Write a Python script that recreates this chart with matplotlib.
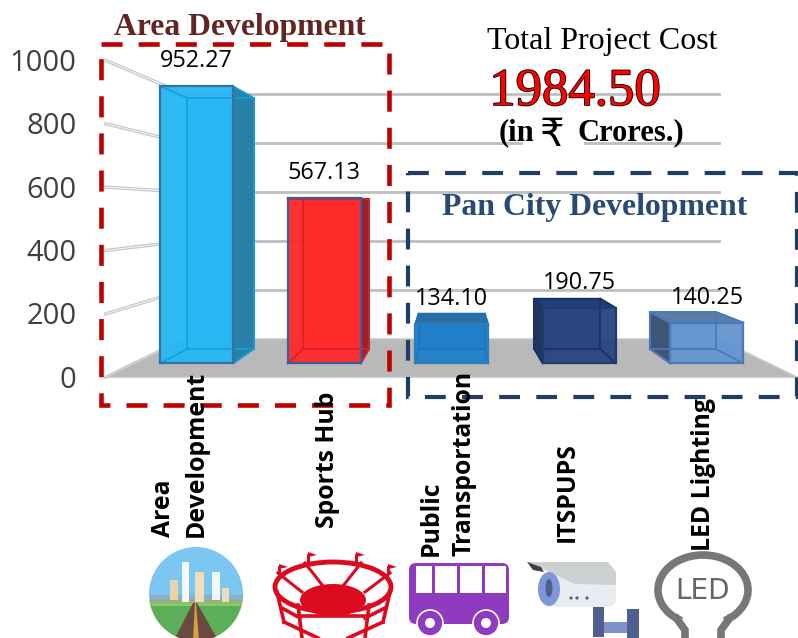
import numpy as np
import matplotlib
matplotlib.use('Agg')
import matplotlib.pyplot as plt
import matplotlib.patheffects as pe
from matplotlib.patches import Polygon, Rectangle, Ellipse, Circle, FancyBboxPatch, Arc

categories = ['Area\nDevelopment', 'Sports Hub', 'Public\nTransportation', 'ITSPUPS', 'LED Lighting']
values = [952.27, 567.13, 134.10, 190.75, 140.25]
value_labels = ['952.27', '567.13', '134.10', '190.75', '140.25']
y_ticks = [0, 200, 400, 600, 800, 1000]

front_colors = ['#27b7f3', '#ff2a2a', '#1f80c9', '#2a4580', '#6596d0']
side_colors = ['#2880a8', '#a02028', '#2a70a8', '#25355c', '#3f5578']
top_colors = ['#27b7f3', '#ff2a2a', '#2a70a8', '#243f78', '#5b7ea8']
edge_colors = ['#3a70a8', '#3a5f9a', '#2f7ab8', '#1f3a70', '#4a7ab5']
inner_colors = ['#12a0dc', '#d8202a', '#1a74b8', '#183068', '#4a7ab5']

# perspective of the 3d chart
cx = 2.0
vanish = 531.0
k_back = 0.906
k_wall = 0.84
k_floor = 1.09
half_w = 2.49
bar_w = 0.572


def project(x, v, k):
    return cx + (x - cx) * k, vanish + (v - vanish) * k


def box_faces(i, v):
    l, r = i - bar_w / 2, i + bar_w / 2
    fl = [project(l, 0, 1), project(r, 0, 1), project(r, v, 1), project(l, v, 1)]
    bl = [project(l, 0, k_back), project(r, 0, k_back), project(r, v, k_back), project(l, v, k_back)]
    return fl, bl


fig = plt.figure(figsize=(7.98, 6.38), dpi=100)
ax = fig.add_axes([0, 0, 1, 1])
ax.set_xlim(-196.5 / 127.6, (798 - 196.5) / 127.6)
ax.set_ylim((363.5 - 638) / 0.291, 363.5 / 0.291)
ax.axis('off')

# side wall and back wall grid
for t in y_ticks:
    a = project(cx - half_w, t, k_floor)
    b = project(cx - half_w, t, k_wall)
    c = project(cx + half_w, t, k_wall)
    ax.plot([a[0], b[0]], [a[1], b[1]], color='#c4c4c4', lw=2.4, zorder=1, solid_capstyle='round')
    ax.plot([a[0], b[0]], [a[1], b[1]], color='#f4f4f4', lw=0.8, zorder=1.1)
    if t > 0:
        ax.plot([b[0], c[0]], [b[1], c[1]], color='#bebebe', lw=2.0, zorder=1)
    ax.annotate(str(t), xy=a, xytext=(-29, -3), textcoords='offset pixels', ha='right', va='center',
                fontsize=21, color='#404040', family='Open Sans', zorder=5)

# floor
floor = [project(cx - half_w, 0, k_floor), project(cx + half_w, 0, k_floor),
         project(cx + half_w, 0, k_wall), project(cx - half_w, 0, k_wall)]
ax.add_patch(Polygon(floor, closed=True, facecolor='#b9b9b9', edgecolor='#d0d0d0', lw=1, zorder=1.5))

# bars
for i, v in enumerate(values):
    f, b = box_faces(i, v)
    z = 2 + i * 0.01
    ax.add_patch(Polygon(b, closed=True, facecolor=front_colors[i], edgecolor=inner_colors[i], lw=1.3, zorder=z))
    # right side, left side, top
    if b[1][0] > f[1][0]:
        ax.add_patch(Polygon([f[1], b[1], b[2], f[2]], closed=True, facecolor=side_colors[i],
                             edgecolor=edge_colors[i], lw=1.3, zorder=z))
    if b[0][0] < f[0][0]:
        ax.add_patch(Polygon([f[0], b[0], b[3], f[3]], closed=True, facecolor=side_colors[i],
                             edgecolor=edge_colors[i], lw=1.3, zorder=z))
    if b[2][1] > f[2][1]:
        ax.add_patch(Polygon([f[3], f[2], b[2], b[3]], closed=True, facecolor=top_colors[i],
                             edgecolor=edge_colors[i], lw=1.3, zorder=z))
    ax.add_patch(Polygon(f, closed=True, facecolor=front_colors[i], edgecolor='none', alpha=0.96, zorder=z + 0.1))
    # inner edges showing through the front
    for p, q in [(f[0], b[0]), (f[1], b[1]), (f[2], b[2]), (f[3], b[3])]:
        ax.plot([p[0], q[0]], [p[1], q[1]], color=inner_colors[i], lw=1.2, zorder=z + 0.2)
    ax.plot([b[j][0] for j in [0, 1, 2, 3, 0]], [b[j][1] for j in [0, 1, 2, 3, 0]],
            color=inner_colors[i], lw=1.2, zorder=z + 0.2)
    ax.add_patch(Polygon(f, closed=True, facecolor='none', edgecolor=edge_colors[i], lw=1.6, zorder=z + 0.3))
    ax.annotate(value_labels[i], xy=(i, v), xytext=(0, 25), textcoords='offset pixels', ha='center', va='center',
                fontsize=16.8, color='black', family='Open Sans', zorder=6)

# overlay in pixels for boxes, captions and icons
ov = fig.add_axes([0, 0, 1, 1])
ov.set_xlim(0, 798)
ov.set_ylim(638, 0)
ov.axis('off')
ov.patch.set_alpha(0)

ov.add_patch(Rectangle((523, 137), 61, 16, facecolor='white', edgecolor='none', zorder=2))
ov.add_patch(Rectangle((101, 44), 288, 361, fill=False, edgecolor='#c00000', lw=3.3,
                       ls=(0, (4.6, 3.5)), capstyle='butt', zorder=3))
ov.add_patch(Rectangle((408, 173), 389, 224, fill=False, edgecolor='#1f3d66', lw=3.0,
                       ls=(0, (5.0, 3.9)), capstyle='butt', zorder=3))

serif = ['Liberation Serif', 'DejaVu Sans']
ov.text(239.5, 27, 'Area Development', family=serif, weight='bold', fontsize=22.8, color='#632523',
        ha='center', va='center', zorder=4)
ov.text(602.5, 41, 'Total Project Cost', family=serif, fontsize=23, color='black', ha='center', va='center', zorder=4)
ov.text(575, 92, '1984.50', family=serif, fontsize=38, color='#ff0000', ha='center', va='center', zorder=4,
        path_effects=[pe.withStroke(linewidth=1.2, foreground='black')])
ov.text(517, 133, '(in', family=serif, weight='bold', fontsize=22, color='black', ha='center', va='center', zorder=4)
ov.text(552, 137, '\u20b9', family=serif, fontsize=28, color='black', ha='center', va='center', zorder=4)
ov.text(631, 133, 'Crores.)', family=serif, weight='bold', fontsize=22, color='black', ha='center', va='center', zorder=4)
ov.text(595, 207, 'Pan City Development', family=serif, weight='bold', fontsize=22.9, color='#2a4a75',
        ha='center', va='center', zorder=4)

# category labels
label_pos = [(180, 537), (328, 528), (448, 556), (567, 542), (704, 551)]
for name, (lx, ly) in zip(categories, label_pos):
    ov.text(lx, ly, name, rotation=90, ha='center', va='bottom', multialignment='left', rotation_mode='default',
            family='Open Sans', weight='bold', fontsize=17.8, color='black', linespacing=1.42, zorder=4)

# city icon
clip = Circle((196, 594), 47, transform=ov.transData)
parts = [Rectangle((149, 547), 94, 60, facecolor='#7cc6f2'),
         Rectangle((149, 603), 94, 36, facecolor='#5cae58'),
         Rectangle((149, 600), 94, 6, facecolor='#8cc860'),
         Rectangle((150, 595), 94, 8, facecolor='#9a9aa0', alpha=0.5),
         Rectangle((182, 562), 7, 40, facecolor='#f4f8fb'),
         Rectangle((195, 572), 9, 30, facecolor='#f4dcb8'),
         Rectangle((212, 572), 8, 28, facecolor='#f2f6fa'),
         Rectangle((170, 580), 8, 20, facecolor='#e8d4a8'),
         Rectangle((222, 588), 7, 14, facecolor='#f0dcb8'),
         Polygon([(174, 640), (193, 603), (197, 603), (218, 640)], facecolor='#6a4a40'),
         Polygon([(193, 640), (195, 603), (196, 603), (199, 640)], facecolor='#d8a040')]
for p in parts:
    ov.add_patch(p)
    p.set_clip_path(clip)

# stadium icon
red = '#dc0a1e'
ov.add_patch(Ellipse((333, 587), 116, 50, fill=False, edgecolor=red, lw=3.5))
ov.add_patch(Ellipse((333, 600), 66, 32, facecolor=red, edgecolor='none'))
for (x0, y0, x1, y1) in [(305, 563, 323, 586), (361, 563, 343, 586), (278, 573, 302, 592), (390, 573, 365, 592),
                         (308, 563, 308, 555), (356, 563, 356, 555), (279, 573, 279, 567), (388, 573, 388, 567)]:
    ov.plot([x0, x1], [y0, y1], color=red, lw=2.2)
for (x0, y0) in [(308, 555), (356, 555), (279, 567), (388, 567)]:
    ov.add_patch(Polygon([(x0, y0 - 3), (x0 + 9, y0), (x0, y0 + 2)], facecolor=red, edgecolor='none'))
for (x0, y0, x1, y1) in [(277, 592, 284, 622), (390, 592, 383, 622), (284, 622, 318, 638), (383, 622, 348, 638),
                         (282, 608, 300, 618), (385, 608, 365, 618), (298, 605, 302, 638), (369, 605, 365, 638),
                         (300, 616, 366, 616)]:
    ov.plot([x0, x1], [y0, y1], color=red, lw=2.6)

# bus icon
purple = '#8f3bbf'
ov.add_patch(FancyBboxPatch((412, 566), 94, 55, boxstyle='round,pad=3,rounding_size=7', facecolor=purple, edgecolor='none'))
for wx, ww in [(416, 16), (435, 22), (460, 22), (485, 21)]:
    ov.add_patch(Rectangle((wx, 566), ww, 27, facecolor='white', edgecolor='none'))
for wx in [430, 486]:
    ov.add_patch(Circle((wx, 623), 13, facecolor=purple, edgecolor='white', lw=1.2))
    ov.add_patch(Circle((wx, 623), 5, facecolor='white', edgecolor='none'))

# camera icon
ov.add_patch(Rectangle((593, 607), 11, 30, facecolor='#4f5f90', edgecolor='none'))
ov.add_patch(Rectangle((627, 609), 12, 29, facecolor='#4f5f90', edgecolor='none'))
ov.add_patch(Rectangle((604, 622), 23, 11, facecolor='#7f90cc', edgecolor='none'))
ov.add_patch(FancyBboxPatch((548, 570), 68, 37, boxstyle='round,pad=0,rounding_size=9', facecolor='#e9edf2', edgecolor='none'))
ov.add_patch(Polygon([(527, 562), (608, 562), (616, 572), (616, 585), (575, 584), (545, 570)], facecolor='#ccd0d0', edgecolor='none'))
ov.add_patch(Ellipse((549, 589), 22, 34, facecolor='#7f97d8', edgecolor='none'))
ov.add_patch(Ellipse((549, 588), 7, 18, facecolor='#4f5f90', edgecolor='none'))
ov.add_patch(Polygon([(527, 562), (541, 567), (544, 572), (533, 570)], facecolor='#404040', edgecolor='none'))
for dx in [571, 577, 587]:
    ov.add_patch(Circle((dx, 598), 1.6, facecolor='#4f5f90', edgecolor='none'))

# led icon
grey = '#777777'
ov.add_patch(Arc((703, 590), 90, 70, theta1=125, theta2=415, edgecolor=grey, lw=5.5))
ov.plot([677, 685, 685], [619, 630, 638], color=grey, lw=5.5)
ov.plot([729, 721, 721], [619, 630, 638], color=grey, lw=5.5)
ov.text(703, 591, 'LED', family='DejaVu Sans', fontsize=20, color='#666666', ha='center', va='center')

fig.savefig('out.png', dpi=100, facecolor='white')
